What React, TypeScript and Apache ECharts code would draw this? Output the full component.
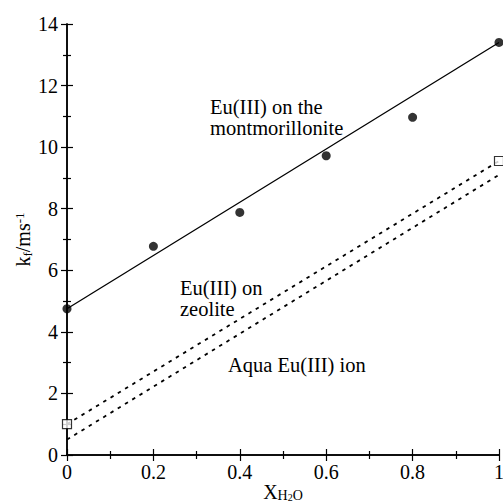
import React, { useEffect, useRef } from "react";
import * as echarts from "echarts";

const montX = [0, 0.2, 0.4, 0.6, 0.8, 1];
const montY = [4.75, 6.78, 7.88, 9.72, 10.97, 13.4];
const zeoliteX = [0, 1];
const zeoliteY = [1.0, 9.55];
const montFit = [[0, 4.75], [1, 13.4]];
const zeoliteFit = [[0, 1.0], [1, 9.55]];
const aquaFit = [[0, 0.5], [1, 9.1]];
const xTicks = [0, 0.2, 0.4, 0.6, 0.8, 1];
const yTicks = [0, 2, 4, 6, 8, 10, 12, 14];

const FONT = "Liberation Serif";

export default function App() {
  const ref = useRef<HTMLDivElement>(null);
  useEffect(() => {
    const chart = echarts.init(ref.current!, null, { renderer: "svg" });
    const axisLine = { show: true, lineStyle: { color: "#000", width: 1.5 } };
    const xFmt = (v: number) => (xTicks.some((t) => Math.abs(t - v) < 1e-9) ? String(+v.toFixed(1)) : "");
    const yFmt = (v: number) => (yTicks.includes(v) ? String(v) : "");
    const tick = { inside: true, length: 6, lineStyle: { color: "#000", width: 1.2 } };
    const minor = { show: true, splitNumber: 2, length: 4, lineStyle: { color: "#000", width: 1.2 } };
    const txt = (text: string, left: number, top: number) => ({
      type: "text", left, top,
      style: { text, fontFamily: FONT, fontSize: 20.5, lineHeight: 21, fill: "#000" },
    });
    chart.setOption({
      animation: false,
      backgroundColor: "#fff",
      textStyle: { fontFamily: FONT },
      grid: { left: 67, right: 4, top: 24, bottom: 48, outerBoundsMode: "none", containLabel: false },
      xAxis: [
        {
          type: "value", min: 0, max: 1, interval: 0.2, position: "bottom",
          axisLine, axisTick: tick, minorTick: minor,
          splitLine: { show: false },
          axisLabel: { formatter: xFmt, color: "#000", fontFamily: FONT, fontSize: 20, margin: 7 },
          name: "{b|X}{s|H}{ss|2}{s|O}",
          nameLocation: "middle",
          nameGap: 27,
          nameMoveOverlap: false,
          nameTextStyle: {
            verticalAlign: "top",
            rich: {
              b: { fontFamily: FONT, fontSize: 20, lineHeight: 20, color: "#000" },
              s: { fontFamily: FONT, fontSize: 14, lineHeight: 14, color: "#000", padding: [7, 0, 0, 0] },
              ss: { fontFamily: FONT, fontSize: 10, lineHeight: 10, color: "#000", padding: [10, 0, 0, 0] },
            },
          },
        },
        {
          type: "value", min: 0, max: 1, interval: 0.2, position: "top",
          axisLine, axisTick: tick, minorTick: minor,
          splitLine: { show: false },
          axisLabel: { show: false },
        },
      ],
      yAxis: [
        {
          type: "value", min: 0, max: 14, interval: 2, position: "left",
          axisLine, axisTick: tick, minorTick: minor,
          splitLine: { show: false },
          axisLabel: { formatter: yFmt, color: "#000", fontFamily: FONT, fontSize: 20, margin: 9 },
          name: "{b|k}{s|f}{b|/ms}{p|-1}",
          nameLocation: "middle",
          nameGap: 44,
          nameMoveOverlap: false,
          nameRotate: 90,
          nameTextStyle: {
            verticalAlign: "middle",
            rich: {
              b: { fontFamily: FONT, fontSize: 20, color: "#000" },
              s: { fontFamily: FONT, fontSize: 13, color: "#000", padding: [8, 0, 0, 0] },
              p: { fontFamily: FONT, fontSize: 13, color: "#000", padding: [0, 0, 8, 0] },
            },
          },
        },
        {
          type: "value", min: 0, max: 14, interval: 2, position: "right",
          axisLine, axisTick: tick, minorTick: minor,
          splitLine: { show: false },
          axisLabel: { show: false },
        },
      ],
      series: [
        {
          type: "line", data: montFit, symbol: "none", clip: false,
          lineStyle: { color: "#000", width: 1.3 },
        },
        {
          type: "line", data: zeoliteFit, symbol: "none", clip: false,
          lineStyle: { color: "#000", width: 1.8, type: [3.5, 5] },
        },
        {
          type: "line", data: aquaFit, symbol: "none", clip: false,
          lineStyle: { color: "#000", width: 1.8, type: [3.5, 5] },
        },
        {
          type: "scatter", data: montX.map((x, i) => [x, montY[i]]), symbol: "circle", symbolSize: 9, clip: false,
          itemStyle: { color: "#000" }, z: 5,
        },
        {
          type: "scatter", data: zeoliteX.map((x, i) => [x, zeoliteY[i]]), symbol: "rect", symbolSize: 9, clip: false,
          itemStyle: { color: "#fff", borderColor: "#000", borderWidth: 1.2 }, z: 5,
        },
      ],
      graphic: [
        txt("Eu(III) on the\nmontmorillonite", 210, 96),
        txt("Eu(III) on\nzeolite", 180, 277),
        txt("Aqua Eu(III) ion", 228, 354),
      ],
    });
    return () => chart.dispose();
  }, []);
  return <div ref={ref} style={{ width: 503, height: 503, position: "absolute", left: 0, top: 0 }} />;
}
